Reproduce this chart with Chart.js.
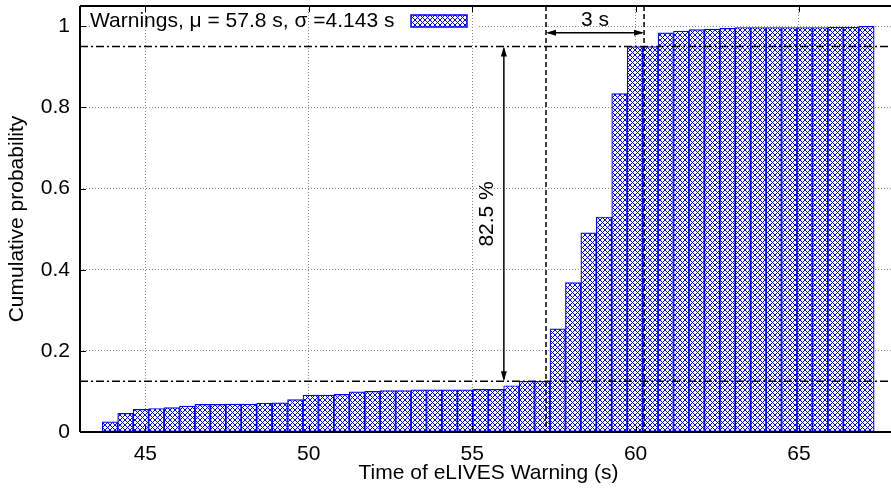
<!DOCTYPE html>
<html>
<head>
<meta charset="utf-8">
<script src="https://cdn.jsdelivr.net/npm/chart.js@4"></script>
<style>
  html, body { margin: 0; padding: 0; background: #fff; overflow: hidden; }
  #wrap { width: 910px; height: 490px; }
</style>
</head>
<body>
<div id="wrap"><canvas id="cdfChart" width="910" height="490"></canvas></div>
<script>
// histogram bins (centre of each bin, seconds) and cumulative share of warnings
const binCenters = [
  43.918, 44.390, 44.863, 45.335, 45.808, 46.280, 46.752, 47.225, 47.697, 48.170,
  48.642, 49.114, 49.587, 50.059, 50.532, 51.004, 51.476, 51.949, 52.421, 52.894,
  53.366, 53.838, 54.311, 54.783, 55.256, 55.728, 56.200, 56.673, 57.145, 57.618,
  58.090, 58.562, 59.035, 59.507, 59.980, 60.452, 60.924, 61.397, 61.869, 62.342,
  62.814, 63.286, 63.759, 64.231, 64.704, 65.176, 65.648, 66.121, 66.593, 67.066
];
const cumulative = [
  0.025, 0.046, 0.056, 0.058, 0.060, 0.064, 0.068, 0.068, 0.069, 0.069,
  0.071, 0.072, 0.080, 0.091, 0.091, 0.093, 0.099, 0.100, 0.102, 0.102,
  0.104, 0.104, 0.104, 0.104, 0.105, 0.105, 0.114, 0.125, 0.125, 0.254,
  0.368, 0.491, 0.530, 0.834, 0.950, 0.950, 0.984, 0.988, 0.992, 0.993,
  0.995, 0.997, 0.997, 0.997, 0.997, 0.997, 0.997, 0.998, 0.998, 1.000
];
const xTicks = [45, 50, 55, 60, 65];
const yTicks = [0, 0.2, 0.4, 0.6, 0.8, 1];
const yTickLabels = ['0', '0.2', '0.4', '0.6', '0.8', '1'];

// quantile markers and the annotated spans
const quantileLow = 0.125;
const quantileHigh = 0.95;
const windowStart = 57.26;
const windowEnd = 60.26;
const spreadArrowX = 55.97;
const windowArrowY = 0.984;
const spreadLabel = '82.5 %';
const windowLabel = '3 s';
const seriesLabel = 'Warnings, \u03bc = 57.8 s, \u03c3 =4.143 s';
const xTitle = 'Time of eLIVES Warning (s)';
const yTitle = 'Cumulative probability';

const FONT_FAMILY = '"Liberation Sans", Arial, Helvetica, sans-serif';
const FONT_SIZE = 21;
const BLUE = '#0000ff';
const GRID = '#8a8a8a';

const canvas = document.getElementById('cdfChart');
const ctx = canvas.getContext('2d');

function makeHatch() {
  const tile = document.createElement('canvas');
  tile.width = 10;
  tile.height = 10;
  const c = tile.getContext('2d');
  c.fillStyle = '#fff';
  c.fillRect(0, 0, 10, 10);
  c.strokeStyle = BLUE;
  c.lineWidth = 1;
  c.beginPath();
  for (let k = -10; k <= 20; k += 5) {
    c.moveTo(k, 0); c.lineTo(k + 10, 10);
    c.moveTo(k, 10); c.lineTo(k + 10, 0);
  }
  c.stroke();
  return ctx.createPattern(tile, 'repeat');
}
const hatch = makeHatch();

function arrowHead(g, x, y, dx, dy) {
  // filled head pointing along (dx, dy)
  const len = 10, half = 3;
  const px = -dy, py = dx;
  g.beginPath();
  g.moveTo(x, y);
  g.lineTo(x - dx * len + px * half, y - dy * len + py * half);
  g.lineTo(x - dx * len - px * half, y - dy * len - py * half);
  g.closePath();
  g.fill();
}

const overlayPlugin = {
  id: 'overlay',
  beforeDatasetsDraw(chart) {
    // grid line at 1 is broken by the key text
    const { ctx: g, chartArea: a, scales: { y } } = chart;
    const yy = Math.round(y.getPixelForValue(1)) + 0.5;
    g.save();
    g.strokeStyle = GRID;
    g.lineWidth = 1;
    g.setLineDash([1, 2]);
    g.beginPath();
    g.moveTo(a.left, yy); g.lineTo(a.left + 10, yy);
    g.moveTo(479, yy); g.lineTo(a.right, yy);
    g.stroke();
    g.restore();
  },
  afterDatasetsDraw(chart) {
    const { ctx: g, chartArea: a, scales: { x, y } } = chart;
    g.save();

    // frame
    g.strokeStyle = '#000';
    g.lineWidth = 2;
    g.setLineDash([]);
    g.beginPath();
    g.moveTo(a.left, a.top); g.lineTo(a.right, a.top);
    g.moveTo(a.left, a.top); g.lineTo(a.left, a.bottom);
    g.moveTo(a.left, a.bottom); g.lineTo(a.right, a.bottom);
    g.stroke();

    // inward tick marks
    g.lineWidth = 1;
    g.beginPath();
    xTicks.forEach(v => {
      const px = Math.round(x.getPixelForValue(v)) + 0.5;
      g.moveTo(px, a.bottom); g.lineTo(px, a.bottom - 6);
      g.moveTo(px, a.top); g.lineTo(px, a.top + 6);
    });
    yTicks.forEach(v => {
      const py = Math.round(y.getPixelForValue(v)) + 0.5;
      g.moveTo(a.left, py); g.lineTo(a.left + 6, py);
    });
    g.stroke();

    // quantile lines (dash-dot)
    g.lineWidth = 1.5;
    g.setLineDash([8, 3, 2, 3]);
    [quantileLow, quantileHigh].forEach(q => {
      const py = y.getPixelForValue(q);
      g.beginPath();
      g.moveTo(a.left, py); g.lineTo(a.right, py);
      g.stroke();
    });

    // time window bounds (dashed)
    g.setLineDash([5, 3]);
    [windowStart, windowEnd].forEach(t => {
      const px = x.getPixelForValue(t);
      g.beginPath();
      g.moveTo(px, a.top); g.lineTo(px, a.bottom);
      g.stroke();
    });

    // double arrows
    g.setLineDash([]);
    g.fillStyle = '#000';
    g.lineWidth = 1.5;
    const ax = x.getPixelForValue(spreadArrowX);
    const ay0 = y.getPixelForValue(quantileHigh);
    const ay1 = y.getPixelForValue(quantileLow);
    g.beginPath();
    g.moveTo(ax, ay0 + 2); g.lineTo(ax, ay1 - 2);
    g.stroke();
    arrowHead(g, ax, ay0, 0, -1);
    arrowHead(g, ax, ay1, 0, 1);

    const hy = y.getPixelForValue(windowArrowY);
    const hx0 = x.getPixelForValue(windowStart);
    const hx1 = x.getPixelForValue(windowEnd);
    g.beginPath();
    g.moveTo(hx0 + 2, hy); g.lineTo(hx1 - 2, hy);
    g.stroke();
    arrowHead(g, hx0, hy, -1, 0);
    arrowHead(g, hx1, hy, 1, 0);

    // annotation text
    g.font = FONT_SIZE + 'px ' + FONT_FAMILY;
    g.textAlign = 'center';
    g.textBaseline = 'middle';
    g.fillText(windowLabel, (hx0 + hx1) / 2, hy - 13);
    g.save();
    g.translate(ax - 17, (ay0 + ay1) / 2);
    g.rotate(-Math.PI / 2);
    g.fillText(spreadLabel, 0, 0);
    g.restore();

    // key
    g.textAlign = 'left';
    g.fillText(seriesLabel, a.left + 10, 21);
    g.fillStyle = hatch;
    g.fillRect(411, 15, 56, 12);
    g.strokeStyle = BLUE;
    g.lineWidth = 1.5;
    g.strokeRect(411, 15, 56, 12);

    g.restore();
  }
};

const font = { family: FONT_FAMILY, size: FONT_SIZE };

new Chart(ctx, {
  type: 'bar',
  data: {
    datasets: [{
      label: seriesLabel,
      data: binCenters.map((c, i) => ({ x: c, y: cumulative[i] })),
      backgroundColor: hatch,
      borderColor: BLUE,
      borderWidth: 1.2,
      borderSkipped: false,
      barPercentage: 1,
      categoryPercentage: 1
    }]
  },
  options: {
    responsive: false,
    animation: false,
    layout: { padding: { top: 6, right: 13, left: 0, bottom: 0 } },
    plugins: {
      legend: { display: false },
      tooltip: { enabled: false }
    },
    scales: {
      x: {
        type: 'linear',
        min: 43,
        max: 68,
        offset: false,
        afterBuildTicks: s => { s.ticks = xTicks.map(v => ({ value: v })); },
        afterFit: s => { s.height = 58; s.paddingLeft = 0; s.paddingRight = 0; },
        grid: { color: GRID, drawTicks: false, offset: false },
        border: { display: false, dash: [1, 2] },
        ticks: { font, color: '#000', padding: 10, maxRotation: 0, autoSkip: false },
        title: { display: true, text: xTitle, font, color: '#000', padding: { top: 0, bottom: 4 } }
      },
      y: {
        type: 'linear',
        min: 0,
        max: 1.05,
        afterBuildTicks: s => { s.ticks = yTicks.map(v => ({ value: v })); },
        afterFit: s => { s.width = 80; s.paddingTop = 0; s.paddingBottom = 0; },
        grid: {
          color: c => (c.tick && c.tick.value === 1 ? 'rgba(0,0,0,0)' : GRID),
          drawTicks: false
        },
        border: { display: false, dash: [1, 2] },
        ticks: {
          font, color: '#000', padding: 10, autoSkip: false,
          callback: (v, i) => yTickLabels[i]
        },
        title: { display: true, text: yTitle, font, color: '#000', padding: { top: 5, bottom: 0 } }
      }
    }
  },
  plugins: [overlayPlugin]
});
</script>
</body>
</html>
